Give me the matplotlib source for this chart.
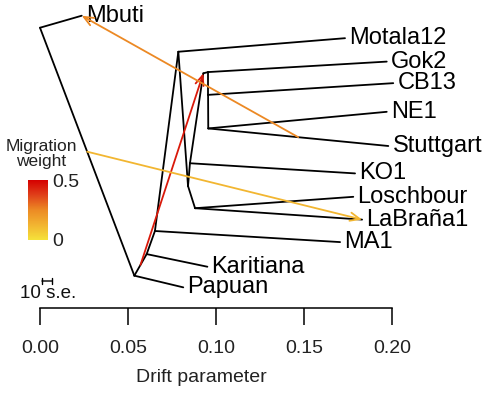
import matplotlib
matplotlib.use("Agg")
import matplotlib.pyplot as plt
from matplotlib.colors import LinearSegmentedColormap, Normalize
from matplotlib.cm import ScalarMappable

plt.rcParams['font.family'] = ['Liberation Sans', 'DejaVu Sans']

# ---- data -------------------------------------------------------------
node_names = ['root', 'Mbuti', 'A', 'Papuan', 'B', 'Karitiana', 'C', 'MA1',
              'D', 'Motala12', 'H', 'K', 'KO1', 'E', 'G1', 'Gok2', 'G2',
              'CB13', 'N', 'NE1', 'Stuttgart', 'L', 'Loschbour', 'LaBraña1']
node_drift = [0.0, 0.0237, 0.0536, 0.0814, 0.0606, 0.0951, 0.0653, 0.1705,
              0.0786, 0.1733, 0.0841, 0.0852, 0.1790, 0.0928, 0.0955, 0.1970,
              0.0955, 0.2007, 0.0956, 0.1970, 0.1979, 0.0881, 0.1780, 0.1830]
node_y = [0.910, 0.949, 0.105, 0.067, 0.175, 0.134, 0.250, 0.214,
          0.832, 0.876, 0.396, 0.470, 0.437, 0.762, 0.766, 0.800,
          0.692, 0.730, 0.583, 0.637, 0.526, 0.324, 0.361, 0.287]

edge_parent = ['root', 'root', 'A', 'A', 'B', 'B', 'C', 'C', 'D', 'D', 'H',
               'H', 'K', 'K', 'E', 'G1', 'G1', 'G2', 'G2', 'N', 'N', 'L', 'L']
edge_child = ['Mbuti', 'A', 'Papuan', 'B', 'Karitiana', 'C', 'MA1', 'D',
              'Motala12', 'H', 'K', 'L', 'KO1', 'E', 'G1', 'Gok2', 'G2',
              'CB13', 'N', 'NE1', 'Stuttgart', 'Loschbour', 'LaBraña1']

leaves = ['Mbuti', 'Papuan', 'Karitiana', 'MA1', 'Motala12', 'KO1', 'Gok2',
          'CB13', 'NE1', 'Stuttgart', 'Loschbour', 'LaBraña1']

mig_from_parent = ['A', 'N', 'root']
mig_from_child = ['B', 'Stuttgart', 'A']
mig_to = ['E', 'Mbuti', 'LaBraña1']
mig_weight = [0.45, 0.25, 0.12]

xticks = [0.00, 0.05, 0.10, 0.15, 0.20]
xtick_labels = ['0.00', '0.05', '0.10', '0.15', '0.20']
se_bar_length = 0.0057
weight_ticks = [0, 0.5]
weight_tick_labels = ['0', '0.5']

# ---- figure -----------------------------------------------------------
W, H = 489, 394
fig = plt.figure(figsize=(W / 100, H / 100), dpi=100)
ax = fig.add_axes([0, (H - 308) / H, 1, 308 / H])
ax.set_xlim(-40 / 1760, (W - 40) / 1760)
ax.set_ylim(0, 1)

pos = {n: (x, y) for n, x, y in zip(node_names, node_drift, node_y)}

for p, c in zip(edge_parent, edge_child):
    ax.plot([pos[p][0], pos[c][0]], [pos[p][1], pos[c][1]],
            color='black', lw=1.3, solid_capstyle='round', zorder=2)

for leaf in leaves:
    ax.annotate(leaf, xy=pos[leaf], xytext=(3.0, 0), textcoords='offset points',
                ha='left', va='center', fontsize=17, color='black')

cmap = LinearSegmentedColormap.from_list(
    'mig', ['#F5E23A', '#F2B431', '#EC8A24', '#E0401A', '#D50000'])
norm = Normalize(0, 0.5)

for fp, fc, to, w in zip(mig_from_parent, mig_from_child, mig_to, mig_weight):
    sx = (pos[fp][0] + pos[fc][0]) / 2
    sy = (pos[fp][1] + pos[fc][1]) / 2
    ax.annotate('', xy=pos[to], xytext=(sx, sy),
                arrowprops=dict(arrowstyle='->,head_length=0.7,head_width=0.3',
                                color=cmap(norm(w)), lw=1.3, shrinkA=0,
                                shrinkB=0, mutation_scale=10),
                zorder=3)

# scale bar
sb_x0, sb_y = 0.0011, (308 - 281) / 308
ax.annotate('', xy=(sb_x0 + se_bar_length, sb_y), xytext=(sb_x0, sb_y),
            arrowprops=dict(arrowstyle='|-|,widthA=0.25,widthB=0.25',
                            color='black', lw=1.0, shrinkA=0, shrinkB=0))
fig.text(20 / W, 1 - 293 / H, '10 s.e.', ha='left', va='center',
         fontsize=13.5, color='#111111')

# axis
for s in ['top', 'left', 'right']:
    ax.spines[s].set_visible(False)
ax.spines['bottom'].set_bounds(0, 0.2)
ax.spines['bottom'].set_linewidth(1.1)
ax.set_yticks([])
ax.set_xticks(xticks)
ax.set_xticklabels(xtick_labels, fontsize=14, color='#222222')
ax.tick_params(axis='x', direction='out', length=12, width=1.1, pad=11)
ax.patch.set_alpha(0)
fig.text(201.7 / W, 1 - 377.3 / H, 'Drift parameter', ha='center',
         va='center', fontsize=14, color='#222222')

# migration weight legend
fig.text(41.5 / W, 1 - 154 / H, 'Migration\nweight', ha='center', va='center',
         fontsize=12.5, linespacing=1.05, color='#222222')
cax = fig.add_axes([28.3 / W, (H - 240) / H, 20 / W, 60 / H])
cb = fig.colorbar(ScalarMappable(norm=norm, cmap=cmap), cax=cax,
                  ticks=weight_ticks)
cb.set_ticklabels(weight_tick_labels)
cb.outline.set_visible(False)
cax.tick_params(length=0, labelsize=14, pad=3, colors='#222222')

fig.savefig('out.png', dpi=100)
